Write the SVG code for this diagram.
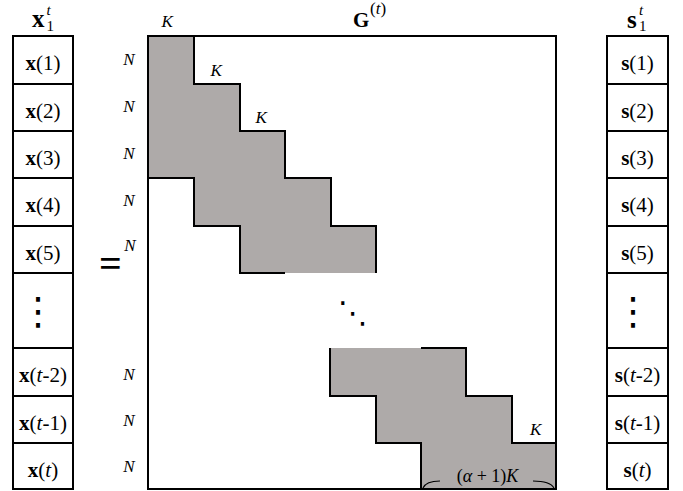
<svg xmlns="http://www.w3.org/2000/svg" width="683" height="491" viewBox="0 0 683 491">
<style>
.cell{fill:#fff;stroke:#000;stroke-width:2}
.div{stroke:#000;stroke-width:2}
.t{font-family:"Liberation Serif",serif;font-size:21px;fill:#000;text-anchor:middle}
.b{font-weight:bold}
.i{font-style:italic}
.lab{font-family:"Liberation Serif",serif;font-size:17px;font-style:italic;fill:#000}
.n{text-anchor:middle}
.gray{fill:#aeaaa9;stroke:none}
.edge{fill:none;stroke:#000;stroke-width:2}
.dots{font-family:"DejaVu Sans",sans-serif;font-size:38px;fill:#000;text-anchor:middle}
.ddots{font-family:"DejaVu Sans",sans-serif;font-size:30px;fill:#000;text-anchor:middle}
</style>
<rect width="683" height="491" fill="#fff"/>

<!-- Left vector x_1^t -->
<g id="x-vector">
  <text x="32" y="27" font-family="Liberation Serif, serif" font-size="25" font-weight="bold">x</text>
  <text x="46.5" y="31" font-family="Liberation Serif, serif" font-size="15">1</text>
  <text x="46.5" y="15" font-family="Liberation Serif, serif" font-size="15" font-style="italic">t</text>
  <rect class="cell" x="13" y="36" width="60" height="453"/>
  <path class="div" d="M13 84H73M13 131H73M13 178H73M13 226H73M13 273H73M13 348H73M13 396H73M13 443H73"/>
  <g id="x1"><text class="t" x="43" y="70"><tspan class="b">x</tspan>(1)</text></g>
  <g id="x2"><text class="t" x="43" y="118"><tspan class="b">x</tspan>(2)</text></g>
  <g id="x3"><text class="t" x="43" y="165"><tspan class="b">x</tspan>(3)</text></g>
  <g id="x4"><text class="t" x="43" y="212"><tspan class="b">x</tspan>(4)</text></g>
  <g id="x5"><text class="t" x="43" y="260"><tspan class="b">x</tspan>(5)</text></g>
  <g id="xdots"><text class="dots" x="38" y="324">⋮</text></g>
  <g id="xt2"><text class="t" x="43" y="382"><tspan class="b">x</tspan>(<tspan class="i">t</tspan>-2)</text></g>
  <g id="xt1"><text class="t" x="43" y="430"><tspan class="b">x</tspan>(<tspan class="i">t</tspan>-1)</text></g>
  <g id="xt"><text class="t" x="43" y="477"><tspan class="b">x</tspan>(<tspan class="i">t</tspan>)</text></g>
</g>

<!-- equals and N labels -->
<g id="equals"><text x="110.5" y="277" font-family="Liberation Serif, serif" font-size="40" font-weight="bold" text-anchor="middle">=</text></g>
<g id="n-labels" class="lab">
  <text class="n" x="129" y="65">N</text>
  <text class="n" x="129" y="112">N</text>
  <text class="n" x="129" y="159">N</text>
  <text class="n" x="129" y="206">N</text>
  <text class="n" x="130" y="251">N</text>
  <text class="n" x="129" y="380">N</text>
  <text class="n" x="129" y="426">N</text>
  <text class="n" x="129" y="472">N</text>
</g>

<!-- Matrix G^(t) -->
<g id="matrix">
  <text x="353" y="27.3" font-family="Liberation Serif, serif" font-size="21" font-weight="bold">G</text>
  <text x="370" y="14" font-family="Liberation Serif, serif" font-size="17">(<tspan font-style="italic">t</tspan>)</text>
  <rect x="148" y="36" width="408" height="453" fill="#fff" stroke="none"/>
  <polygon class="gray" points="148,36 194,36 194,84 240,84 240,131 285,131 285,178 331,178 331,226 376,226 376,273 240,273 240,226 194,226 194,178 148,178"/>
  <polygon class="gray" points="330,348 466,348 466,396 512,396 512,443 556,443 556,489 421,489 421,443 376,443 376,396 330,396"/>
  <path class="edge" d="M194 36V84H240V131H285V178H331V226H376V273"/>
  <path class="edge" d="M285 273H240V226H194V178H148"/>
  <path class="edge" d="M421 348H466V396H512V443H556"/>
  <path class="edge" d="M330 348V396H376V443H421V489"/>
  <rect x="148" y="36" width="408" height="453" fill="none" stroke="#000" stroke-width="2"/>
  <text class="ddots" x="353" y="323">⋱</text>
  <g class="lab">
    <text x="161.5" y="27">K</text>
    <text x="210.5" y="76">K</text>
    <text x="255.5" y="123">K</text>
    <text x="530" y="435">K</text>
  </g>
  <text x="487.5" y="482" font-family="Liberation Serif, serif" font-size="18" text-anchor="middle">(<tspan font-style="italic">α</tspan> + 1)<tspan font-style="italic">K</tspan></text>
  <path d="M423 488Q426 481 440 481M533 481Q550 481 554 488" fill="none" stroke="#000" stroke-width="1.1"/>
</g>

<!-- Right vector s_1^t -->
<g id="s-vector">
  <text x="627" y="28" font-family="Liberation Serif, serif" font-size="25" font-weight="bold">s</text>
  <text x="639" y="31" font-family="Liberation Serif, serif" font-size="15">1</text>
  <text x="639" y="15" font-family="Liberation Serif, serif" font-size="15" font-style="italic">t</text>
  <rect class="cell" x="607" y="36" width="61" height="453"/>
  <path class="div" d="M607 84H668M607 131H668M607 178H668M607 226H668M607 273H668M607 348H668M607 396H668M607 443H668"/>
  <g id="s1"><text class="t" x="637.5" y="70"><tspan class="b">s</tspan>(1)</text></g>
  <g id="s2"><text class="t" x="637.5" y="118"><tspan class="b">s</tspan>(2)</text></g>
  <g id="s3"><text class="t" x="637.5" y="165"><tspan class="b">s</tspan>(3)</text></g>
  <g id="s4"><text class="t" x="637.5" y="212"><tspan class="b">s</tspan>(4)</text></g>
  <g id="s5"><text class="t" x="637.5" y="260"><tspan class="b">s</tspan>(5)</text></g>
  <g id="sdots"><text class="dots" x="633" y="324">⋮</text></g>
  <g id="st2"><text class="t" x="637.5" y="382"><tspan class="b">s</tspan>(<tspan class="i">t</tspan>-2)</text></g>
  <g id="st1"><text class="t" x="637.5" y="430"><tspan class="b">s</tspan>(<tspan class="i">t</tspan>-1)</text></g>
  <g id="st"><text class="t" x="637.5" y="477"><tspan class="b">s</tspan>(<tspan class="i">t</tspan>)</text></g>
</g>
</svg>
